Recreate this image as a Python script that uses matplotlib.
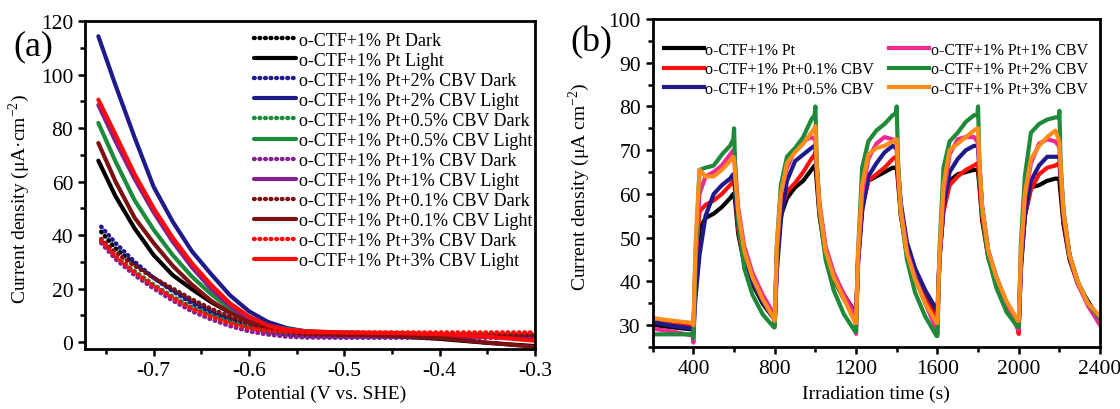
import numpy as np
import matplotlib
matplotlib.use('Agg')
import matplotlib.pyplot as plt
from matplotlib.ticker import MultipleLocator

plt.rcParams['font.family'] = 'Liberation Serif'
plt.rcParams['mathtext.fontset'] = 'custom'
plt.rcParams['mathtext.rm'] = 'Liberation Serif'
plt.rcParams['axes.unicode_minus'] = False

# ---------------- (a) LSV curves, dark and light ----------------
pot_light = [-0.758, -0.74, -0.72, -0.70, -0.68, -0.66, -0.64, -0.62, -0.60,
             -0.58, -0.56, -0.54, -0.50, -0.45, -0.40, -0.35, -0.30]
pot_dark = [-0.755, -0.74, -0.72, -0.70, -0.68, -0.66, -0.64, -0.62, -0.60,
            -0.58, -0.56, -0.54, -0.50, -0.45, -0.40, -0.35, -0.30]

pt_dark = [41.2, 35.0, 29.0, 24.0, 19.5, 15.5, 12.0, 9.0, 6.5, 4.5, 3.2, 2.6, 2.3, 2.2, 2.1, 2.0, 2.0]
pt_light = [67.8, 54.5, 42.5, 32.5, 25.0, 19.8, 15.0, 11.0, 8.5, 6.3, 4.8, 3.8, 2.8, 2.2, 1.2, -0.3, -1.5]
cbv2_dark = [43.1, 37.0, 30.0, 24.0, 19.0, 14.5, 11.0, 8.0, 5.5, 3.8, 2.8, 2.2, 2.0, 2.0, 2.0, 2.0, 2.0]
cbv2_light = [114.3, 96.0, 76.5, 58.0, 45.0, 34.0, 25.5, 17.5, 11.5, 7.5, 5.2, 4.0, 3.2, 3.0, 2.8, 2.5, 2.2]
cbv05_dark = [37.5, 32.0, 26.5, 21.5, 17.0, 13.0, 10.0, 7.5, 5.5, 4.2, 3.5, 3.2, 3.0, 3.0, 3.0, 3.0, 3.0]
cbv05_light = [81.9, 67.5, 53.0, 42.0, 32.5, 24.5, 18.0, 12.5, 8.5, 6.0, 4.8, 4.0, 3.5, 3.2, 3.0, 2.5, 1.5]
cbv1_dark = [37.0, 31.0, 25.0, 20.0, 15.5, 11.5, 8.5, 6.0, 4.0, 2.8, 2.0, 1.7, 1.6, 1.6, 1.6, 1.6, 1.6]
cbv1_light = [88.6, 75.0, 61.0, 48.5, 37.5, 28.0, 20.0, 13.5, 8.5, 5.5, 3.8, 3.0, 2.5, 2.3, 2.2, 2.1, 2.0]
cbv01_dark = [38.5, 33.5, 28.5, 24.0, 20.0, 16.0, 12.5, 9.5, 7.0, 5.0, 3.8, 3.0, 2.6, 2.5, 2.5, 2.5, 2.5]
cbv01_light = [74.4, 60.0, 46.5, 37.0, 28.5, 21.5, 15.5, 11.0, 7.5, 5.3, 4.0, 3.3, 2.8, 2.4, 1.5, -0.2, -1.8]
cbv3_dark = [37.9, 32.0, 26.0, 21.0, 16.5, 12.5, 9.5, 7.0, 5.2, 4.2, 3.8, 3.6, 3.6, 3.6, 3.6, 3.6, 3.6]
cbv3_light = [90.6, 77.5, 62.8, 50.0, 39.0, 29.5, 21.5, 14.5, 9.5, 6.2, 4.6, 4.0, 3.6, 3.4, 3.0, 2.0, 0.5]

lsv_names = ['o-CTF+1% Pt', 'o-CTF+1% Pt+2% CBV', 'o-CTF+1% Pt+0.5% CBV',
             'o-CTF+1% Pt+1% CBV', 'o-CTF+1% Pt+0.1% CBV', 'o-CTF+1% Pt+3% CBV']
lsv_dark = [pt_dark, cbv2_dark, cbv05_dark, cbv1_dark, cbv01_dark, cbv3_dark]
lsv_light = [pt_light, cbv2_light, cbv05_light, cbv1_light, cbv01_light, cbv3_light]
lsv_colors = ['#000000', '#1f1a8c', '#1b8a3a', '#86208f', '#7d1010', '#ff0a0a']

# ---------------- (b) transient photocurrent ----------------
time_s = [200, 300, 396,
          400, 410, 430, 460, 500, 540, 580, 596, 600, 606, 620, 650, 690, 740, 796,
          800, 810, 830, 860, 900, 940, 980, 996, 1000, 1006, 1020, 1050, 1090, 1140, 1196,
          1200, 1210, 1230, 1260, 1300, 1340, 1380, 1396, 1400, 1406, 1420, 1450, 1490, 1540, 1596,
          1600, 1610, 1630, 1660, 1700, 1740, 1780, 1796, 1800, 1806, 1820, 1850, 1890, 1940, 1996,
          2000, 2010, 2030, 2060, 2100, 2140, 2180, 2196, 2200, 2206, 2220, 2250, 2290, 2340, 2400]

i_pt = [30.0, 29.5, 29.0,
        28.5, 42, 52, 54.5, 55.5, 57, 59, 60, 60, 58, 51, 44, 39.5, 35, 31.5,
        30.5, 44, 55, 59, 61.5, 63, 65.5, 66.5, 66.5, 63, 55, 46, 40.5, 36, 32.5,
        31.5, 45, 57, 63, 64, 65, 66, 66, 66, 63, 55, 46.5, 41, 36.5, 32,
        31, 45, 57, 63, 64.5, 65, 65.5, 65.5, 65, 62, 54, 45.5, 40, 35, 30.5,
        30, 44, 55, 61.5, 62, 63, 63.5, 63.5, 63, 60, 53, 45, 39.5, 35.5, 31]
i_cbv01 = [31.0, 30.5, 30.0,
           29, 45, 56, 57.5, 58.5, 60, 62, 63, 63, 60, 52, 44.5, 40, 35.5, 32,
           31, 46, 56, 60.5, 62.5, 65, 68, 69, 69.5, 65, 56, 47, 41, 37, 33,
           32.5, 46, 57, 63, 64.5, 66, 68, 68.5, 68, 64, 56, 47, 41, 36, 31.5,
           31, 45, 56, 62, 64, 65.5, 66.5, 67, 67, 63, 55, 46, 40, 35, 29.5,
           28, 43, 55, 61, 64.5, 66, 66.5, 67, 67, 63, 54, 45.5, 39.5, 35, 30.5]
i_cbv05 = [30.7, 29.8, 29.2,
           28, 36, 46, 55, 60, 62, 63.5, 64.5, 64.5, 61, 53, 45, 40, 35.5, 31.5,
           30, 42, 54, 63, 67.5, 69, 70.5, 71, 71, 66, 57, 47.5, 41.5, 37, 32.5,
           32, 44, 56, 64, 67, 69.5, 71, 70.5, 70, 66, 58, 49, 43, 38, 33.5,
           33, 45, 57, 65, 68, 70, 71, 71, 70.5, 66, 57, 47, 41, 35, 30,
           29.5, 42, 55, 63, 66.5, 68.5, 68.5, 68.5, 68.5, 64, 55, 46, 40, 35, 31]
i_cbv1 = [29.2, 28.5, 27.6,
          26, 44, 60, 64, 65, 66.5, 69, 70, 69.5, 66, 57, 48, 42, 37, 32.5,
          30, 46, 60, 66, 70, 72, 73, 72.5, 72, 67, 58, 48, 42, 37, 32,
          28, 45, 60, 68, 71.5, 73, 72.5, 72, 71, 66, 57, 47, 41, 35, 29,
          28, 45, 60, 69, 72.5, 73, 73, 72, 71.5, 67, 57, 47, 40.5, 35, 29,
          29, 44, 59, 67, 71.5, 72.5, 72, 71, 70.5, 66, 56, 46, 39.5, 34.5, 30]
i_cbv2 = [27.9, 27.9, 27.9,
          27, 45, 65.5, 66, 66.5, 69, 71, 72.5, 75, 65, 54, 43, 37, 32.5, 29.5,
          29.5, 48, 62, 68.5, 70.5, 73, 77, 78, 80, 68, 56, 45, 38, 32.5, 28.5,
          28.5, 47, 66, 72, 74.5, 76, 78, 78.5, 80, 68, 56, 45, 37.5, 32, 27.5,
          27.5, 47, 66, 72, 74, 76.5, 78, 78, 80, 68, 56, 45.5, 38.5, 33, 29.5,
          29.5, 48, 64, 74, 76, 77, 77.5, 77.5, 79, 67, 56, 46, 40, 35, 31.5]
i_cbv3 = [31.6, 31.0, 30.5,
          30, 48, 65.5, 64, 64, 65.5, 67.5, 68.5, 68, 64, 56, 47, 41, 36, 31.5,
          31, 48, 60, 67, 69.5, 71.5, 74, 75, 75.5, 67, 57, 47, 41, 36, 30.5,
          30.5, 47, 62, 69, 70.5, 71, 72, 72.5, 72.5, 66, 56, 46.5, 40.5, 35, 30.5,
          30.5, 46, 62, 70, 71.5, 73, 74.5, 75, 75, 68, 57, 47, 41, 35.5, 31,
          31, 46, 60, 68, 71, 73, 74.5, 72.5, 72, 66, 56, 46, 40, 35, 32]

it_names = ['o-CTF+1% Pt', 'o-CTF+1% Pt+0.1% CBV', 'o-CTF+1% Pt+0.5% CBV',
            'o-CTF+1% Pt+1% CBV', 'o-CTF+1% Pt+2% CBV', 'o-CTF+1% Pt+3% CBV']
it_values = [i_pt, i_cbv01, i_cbv05, i_cbv1, i_cbv2, i_cbv3]
it_colors = ['#000000', '#ff1010', '#1f1a8c', '#ee2a90', '#1e8a3a', '#ff8c1a']


def style_axes(ax):
    for sp in ax.spines.values():
        sp.set_linewidth(2.0)
    ax.tick_params(which='both', direction='out', width=1.8, labelsize=15.5,
                   top=False, right=False)
    ax.tick_params(which='major', length=5)
    ax.tick_params(which='minor', length=3.5)


fig = plt.figure(figsize=(11.2, 4.1), dpi=100)
ax1 = fig.add_axes([0.0759, 0.1463, 0.4018, 0.8])
ax2 = fig.add_axes([0.5828, 0.1512, 0.3994, 0.8])

# dotted = dark scan, solid = under light
for name, dark, light, c in zip(lsv_names, lsv_dark, lsv_light, lsv_colors):
    ax1.plot(pot_dark, dark, color=c, lw=3.2, linestyle=(0, (0.15, 1.1)),
             dash_capstyle='round', label=name + ' Dark')
    ax1.plot(pot_light, light, color=c, lw=3.0, solid_capstyle='round',
             label=name + ' Light')

ax1.set_xlim(-0.772, -0.3)
ax1.set_ylim(-2.6, 120)
ax1.xaxis.set_major_locator(MultipleLocator(0.1))
ax1.xaxis.set_minor_locator(MultipleLocator(0.05))
ax1.yaxis.set_major_locator(MultipleLocator(20))
ax1.yaxis.set_minor_locator(MultipleLocator(10))
ax1.xaxis.set_major_formatter(matplotlib.ticker.FormatStrFormatter('%.1f'))
style_axes(ax1)
ax1.set_xlabel('Potential (V vs. SHE)', fontsize=14)
ax1.set_ylabel('Current density (μA·cm$^{-2}$)', fontsize=14)
ax1.xaxis.set_label_coords(0.524, -0.11)
ax1.yaxis.set_label_coords(-0.118, 0.46)
ax1.legend(loc='upper left', bbox_to_anchor=(0.36, 0.99), frameon=False,
           fontsize=13, handlelength=2.3, handletextpad=0.2, labelspacing=0.17,
           borderaxespad=0)
fig.text(0.030, 0.885, '(a)', fontsize=26, ha='center', va='center')

for name, vals, c in zip(it_names, it_values, it_colors):
    ax2.plot(time_s, vals, color=c, lw=3.0, label=name)

ax2.set_xlim(200, 2400)
ax2.set_ylim(25, 100)
ax2.xaxis.set_major_locator(MultipleLocator(400))
ax2.xaxis.set_minor_locator(MultipleLocator(200))
ax2.yaxis.set_major_locator(MultipleLocator(10))
ax2.yaxis.set_minor_locator(MultipleLocator(5))
style_axes(ax2)
ax2.set_xlabel('Irradiation time (s)', fontsize=14)
ax2.set_ylabel('Current density (μA cm$^{-2}$)', fontsize=14)
ax2.xaxis.set_label_coords(0.5, -0.115)
ax2.yaxis.set_label_coords(-0.136, 0.49)
ax2.legend(loc='upper left', bbox_to_anchor=(0.01, 0.95), frameon=False,
           fontsize=11.5, ncol=2, handlelength=2.5, handletextpad=0.1,
           labelspacing=0.22, columnspacing=0.95, borderaxespad=0)
fig.text(0.528, 0.895, '(b)', fontsize=26, ha='center', va='center')

fig.savefig('out.png', dpi=100)
